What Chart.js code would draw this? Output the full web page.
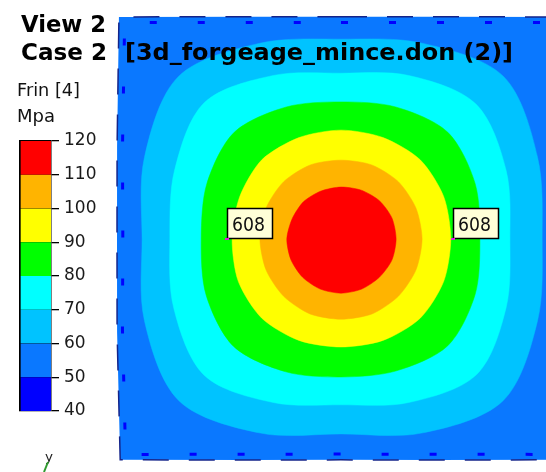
<!DOCTYPE html>
<html>
<head>
<meta charset="utf-8">
<script src="https://cdn.jsdelivr.net/npm/chart.js@4.4.1/dist/chart.umd.min.js"></script>
<style>
  html, body { margin: 0; padding: 0; background: #ffffff; }
  #wrap { position: relative; width: 546px; height: 472px; overflow: hidden; }
  #map, #bar { position: absolute; left: 0; top: 0; }
</style>
</head>
<body>
<div id="wrap">
  <canvas id="map" width="565" height="472"></canvas>
  <canvas id="bar" width="112" height="472"></canvas>
</div>
<script>
// View 2 / Case 2 : Frin [4] (Mpa) on the forged plate.
// Iso-lines are given as radii (mm from the plate centre) along 16 directions,
// clockwise from +y every 22.5 degrees.
const directions = ['0', '22.5', '45', '67.5', '90', '112.5', '135', '157.5',
                    '180', '202.5', '225', '247.5', '270', '292.5', '315', '337.5'];

// plate outline (50-60 Mpa everywhere inside, unless a band below covers it)
const plateEdge = [49.6, 53.7, 70.1, 54.1, 50.0, 54.1, 69.7, 53.4,
                   49.3, 53.4, 69.7, 54.1, 50.0, 54.1, 70.1, 53.7];
// thin 40-50 Mpa fringe just inside the free edges
const fringe40 = [48.3, 52.3, 68.3, 52.8, 48.7, 52.8, 68.0, 52.0,
                  48.0, 52.0, 68.0, 52.8, 48.7, 52.8, 68.3, 52.3];

const iso60  = [44.6, 47.3, 51.3, 47.5, 44.9, 47.5, 51.1, 46.9,
                43.5, 46.9, 51.1, 47.5, 44.4, 47.5, 51.3, 47.3];
const iso70  = [37.0, 39.5, 42.6, 39.9, 37.7, 39.9, 42.8, 39.5,
                37.0, 39.5, 43.1, 40.4, 38.2, 40.2, 43.1, 39.5];
const iso80  = [30.6, 31.9, 33.7, 32.4, 31.0, 32.4, 33.7, 31.9,
                30.8, 32.1, 33.9, 32.6, 31.2, 32.4, 33.7, 31.9];
const iso90  = [24.3, 24.5, 25.0, 24.8, 24.5, 24.8, 25.0, 24.5,
                24.1, 24.5, 25.0, 24.8, 24.3, 24.5, 25.0, 24.5];
const iso100 = [17.6, 17.9, 18.1, 18.1, 18.1, 18.1, 18.1, 18.1,
                17.9, 18.1, 18.1, 18.1, 18.1, 18.1, 18.1, 17.9];
const iso110 = [11.6, 11.8, 12.1, 12.3, 12.3, 12.3, 12.1, 12.1,
                12.1, 12.1, 12.1, 12.1, 12.1, 11.8, 11.8, 11.6];

// sensor probes (radius along the 90 and 270 degree directions) and their readings
const probeR = [null, null, null, null, 25.0, null, null, null,
                null, null, null, null, 25.4, null, null, null];
const probeValues = [608, 608];

// colour scale
const levels = [40, 50, 60, 70, 80, 90, 100, 110, 120];
const bandColors = ['#0000FF', '#0A78FF', '#00C3FF', '#00FFFF',
                    '#00FF00', '#FFFF00', '#FFB400', '#FF0000'];

const FONT = "'DejaVu Sans', 'Liberation Sans', sans-serif";

// draw a string stretched/squeezed to a given width
function fitText(ctx, str, x, base, width, font, color) {
  ctx.save();
  ctx.font = font;
  ctx.fillStyle = color || '#000';
  ctx.textBaseline = 'alphabetic';
  ctx.textAlign = 'left';
  const w = ctx.measureText(str).width;
  ctx.translate(x, base);
  ctx.scale(width / w, 1);
  ctx.fillText(str, 0, 0);
  ctx.restore();
}

function band(r, color, order, tension) {
  return {
    data: r, order: order, fill: 'origin', tension: tension,
    backgroundColor: color, borderColor: color, borderWidth: 0.5,
    pointRadius: 0, clip: false
  };
}

// ---------- contour map ----------
const mapTexts = {
  id: 'mapTexts',
  afterDatasetsDraw(chart) {
    const ctx = chart.ctx;
    const meta = chart.getDatasetMeta(chart.data.datasets.length - 1);
    let k = 0;
    meta.data.forEach((el, i) => {
      if (probeR[i] === null) return;
      const x = Math.round(el.x), y = Math.round(el.y);
      ctx.save();
      ctx.fillStyle = '#FFFFD8';
      ctx.fillRect(x, y - 31, 46, 31);
      ctx.strokeStyle = '#000';
      ctx.lineWidth = 1.5;
      ctx.strokeRect(x + 0.5, y - 30.5, 45, 30);
      ctx.restore();
      fitText(ctx, String(probeValues[k]), x + 5, y - 8, 33, '19px ' + FONT, '#111');
      ctx.save();
      ctx.fillStyle = '#E020E0';
      ctx.fillRect(x - 2, y - 1, 4, 2);
      ctx.restore();
      k++;
    });
  },
  afterDraw(chart) {
    const ctx = chart.ctx;
    fitText(ctx, 'View 2', 21, 32, 85, 'bold 23px ' + FONT);
    fitText(ctx, 'Case 2', 21, 60, 86, 'bold 23px ' + FONT);
    fitText(ctx, '[3d_forgeage_mince.don (2)]', 125, 60, 388, 'bold 23px ' + FONT);
  }
};

new Chart(document.getElementById('map'), {
  type: 'radar',
  data: {
    labels: directions,
    datasets: [
      band(iso110, bandColors[7], 3, 0.26),
      band(iso100, bandColors[6], 4, 0.26),
      band(iso90,  bandColors[5], 5, 0.27),
      band(iso80,  bandColors[4], 6, 0.3),
      band(iso70,  bandColors[3], 7, 0.32),
      band(iso60,  bandColors[2], 8, 0.32),
      {
        data: fringe40, order: 9, fill: false, tension: 0,
        borderColor: bandColors[0], borderWidth: 3, borderDash: [7, 41],
        pointRadius: 0, clip: false
      },
      {
        data: plateEdge, order: 10, fill: 'origin', tension: 0,
        backgroundColor: bandColors[1], borderColor: '#14248a', borderWidth: 1.5,
        borderDash: [26, 20], pointRadius: 0, clip: false
      },
      {
        data: probeR, order: 1, showLine: false, fill: false,
        pointRadius: 0, clip: false
      }
    ]
  },
  options: {
    responsive: false,
    animation: false,
    devicePixelRatio: 1,
    layout: { padding: { left: 117, top: 6, right: 0, bottom: 0 } },
    plugins: { legend: { display: false }, tooltip: { enabled: false } },
    scales: {
      r: {
        min: 0, max: 50,
        angleLines: { display: false },
        grid: { display: false },
        ticks: { display: false },
        pointLabels: { display: false }
      }
    }
  },
  plugins: [mapTexts]
});

// ---------- colour bar ----------
const barTexts = {
  id: 'barTexts',
  afterDraw(chart) {
    const ctx = chart.ctx;
    fitText(ctx, 'Frin [4]', 17, 96, 63, '17.5px ' + FONT, '#111');
    fitText(ctx, 'Mpa', 17, 122, 38, '17.5px ' + FONT, '#111');
    // y axis of the view triad
    fitText(ctx, 'y', 45, 461, 8, '13px ' + FONT, '#222');
    ctx.save();
    ctx.strokeStyle = '#2f9a2f';
    ctx.lineWidth = 2;
    ctx.beginPath();
    ctx.moveTo(44, 472);
    ctx.lineTo(48, 462);
    ctx.stroke();
    ctx.restore();
  }
};

new Chart(document.getElementById('bar'), {
  type: 'bar',
  data: {
    labels: [''],
    datasets: bandColors.map((c, i) => ({
      data: [[levels[i], levels[i + 1]]],
      backgroundColor: c,
      borderColor: '#000',
      borderWidth: { left: 2, right: 0, top: 0, bottom: 0 },
      borderSkipped: false,
      grouped: false,
      barPercentage: 1,
      categoryPercentage: 1
    }))
  },
  options: {
    responsive: false,
    animation: false,
    devicePixelRatio: 1,
    layout: { padding: { left: 19, top: 141, right: 0, bottom: 61 } },
    plugins: { legend: { display: false }, tooltip: { enabled: false } },
    scales: {
      x: { display: false },
      y: {
        position: 'right',
        min: levels[0], max: levels[levels.length - 1],
        z: 1,
        afterFit(scale) { scale.width = 61; },
        border: { display: true, color: '#000', width: 1.5 },
        grid: { drawOnChartArea: true, drawTicks: true, tickLength: 8, color: '#000', lineWidth: 1.3 },
        ticks: {
          stepSize: 10, autoSkip: false, padding: 5,
          color: '#1a1a1a', font: { family: FONT, size: 17 }
        }
      }
    }
  },
  plugins: [barTexts]
});
</script>
</body>
</html>
